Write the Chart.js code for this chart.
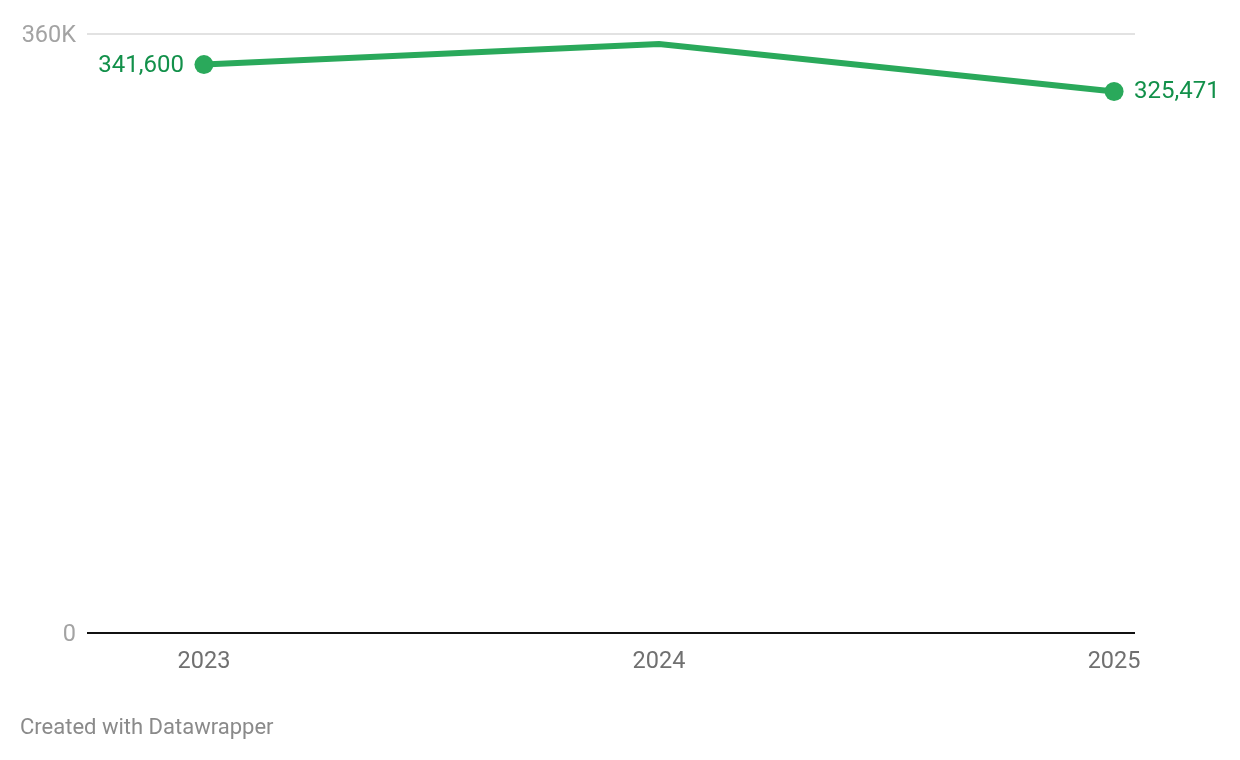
<!DOCTYPE html>
<html>
<head>
<meta charset="utf-8">
<script src="https://cdn.jsdelivr.net/npm/chart.js@4.4.1/dist/chart.umd.min.js"></script>
<style>
  html,body{margin:0;padding:0;background:#fff;}
  #wrap{position:relative;width:1240px;height:760px;}
</style>
</head>
<body>
<div id="wrap"><canvas id="c" width="1240" height="760"></canvas></div>
<script>
const years = [2023, 2024, 2025];
const values = [341600, 354000, 325471];
const yTicks = [0, 360000];
const yTickLabels = ['0', '360K'];
const labelledIdx = [0, 2];
const footerText = 'Created with Datawrapper';

const LINE = '#2aa95b';
const LABEL = '#12904a';
const FONT = 'Roboto, "Noto Sans", sans-serif';

const dataLabels = {
  id: 'dataLabels',
  afterDatasetsDraw(chart) {
    const ctx = chart.ctx;
    const meta = chart.getDatasetMeta(0);
    ctx.save();
    ctx.font = '24px ' + FONT;
    ctx.fillStyle = LABEL;
    ctx.textBaseline = 'middle';
    labelledIdx.forEach(i => {
      const p = meta.data[i];
      const txt = values[i].toLocaleString('en-US');
      if (i === 0) { ctx.textAlign = 'right'; ctx.fillText(txt, p.x - 20, p.y + 1); }
      else { ctx.textAlign = 'left'; ctx.fillText(txt, p.x + 20, p.y + 1); }
    });
    ctx.restore();
  }
};
const footer = {
  id: 'footer',
  afterDraw(chart) {
    const ctx = chart.ctx;
    ctx.save();
    ctx.font = '22px ' + FONT;
    ctx.fillStyle = '#8a8a8a';
    ctx.textAlign = 'left';
    ctx.textBaseline = 'middle';
    ctx.fillText(footerText, 20, 728);
    ctx.restore();
  }
};

new Chart(document.getElementById('c'), {
  type: 'line',
  data: {
    datasets: [{
      data: years.map((y, i) => ({x: y, y: values[i]})),
      borderColor: LINE,
      backgroundColor: LINE,
      borderWidth: 6,
      pointRadius: years.map((y, i) => labelledIdx.includes(i) ? 9.5 : 0),
      pointHoverRadius: 9.5,
      pointBorderWidth: 0,
      tension: 0,
      clip: false
    }]
  },
  options: {
    responsive: false,
    animation: false,
    events: [],
    layout: {padding: {top: 34, right: 105, left: 0, bottom: 0}},
    plugins: {legend: {display: false}, tooltip: {enabled: false}},
    scales: {
      x: {
        type: 'linear',
        min: 2022.743,
        max: 2025.046,
        afterBuildTicks(s) { s.ticks = years.map(v => ({value: v})); },
        afterFit(s) { s.height = 127; },
        grid: {display: false, drawTicks: false},
        border: {display: false},
        ticks: {
          padding: 15,
          color: '#707070',
          font: {family: FONT, size: 23.5},
          callback: v => String(v),
          autoSkip: false,
          maxRotation: 0
        }
      },
      y: {
        min: 0,
        max: 360000,
        afterBuildTicks(s) { s.ticks = yTicks.map(v => ({value: v})); },
        afterFit(s) { s.width = 87; },
        grid: {
          drawTicks: false,
          color: c => c.tick && c.tick.value === 0 ? '#111111' : '#e2e2e2',
          lineWidth: 2
        },
        border: {display: false},
        ticks: {
          padding: 11,
          labelOffset: 2,
          color: '#a3a3a3',
          font: {family: FONT, size: 23.5},
          callback: v => yTickLabels[yTicks.indexOf(v)]
        }
      }
    }
  },
  plugins: [dataLabels, footer]
});
</script>
</body>
</html>
